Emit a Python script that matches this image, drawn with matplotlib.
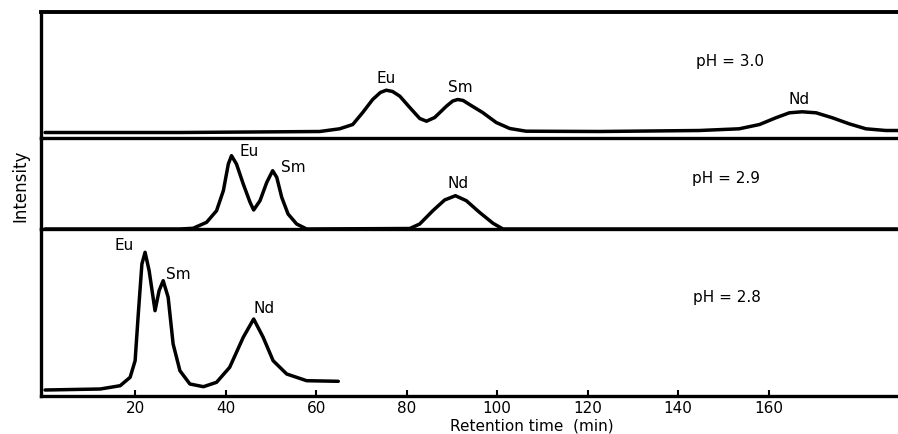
import matplotlib
matplotlib.use("Agg")
import matplotlib.pyplot as plt

# retention time (min) and intensity (arbitrary units)
ph30_t = [0.1, 30.0, 60.8, 65.2, 68.1, 70.3, 72.5, 74.2, 75.5, 76.9, 78.5, 80.7, 82.9,
          84.4, 86.2, 88.8, 90.2, 91.3, 92.5, 93.9, 96.8, 99.8, 102.8, 106.4, 122.6,
          144.7, 153.5, 158.0, 161.6, 164.6, 167.4, 170.5, 174.1, 177.8, 181.5, 185.9, 188.6]
ph30_i = [5.0, 5.0, 6.0, 8.7, 13.0, 25.0, 38.0, 45.0, 47.3, 46.0, 41.3, 30.0, 19.0,
          16.3, 20.0, 31.3, 36.5, 38.0, 37.0, 33.0, 25.0, 15.0, 9.0, 6.3, 6.0,
          7.0, 8.7, 13.0, 19.7, 24.7, 25.7, 24.7, 19.7, 13.7, 8.7, 7.0, 7.0]

ph29_t = [0.1, 29.9, 32.8, 35.8, 38.0, 39.5, 40.6, 41.3, 42.4, 43.9, 45.4, 46.2, 47.6,
          49.1, 50.4, 51.3, 52.4, 53.8, 55.7, 57.9, 80.7, 82.9, 85.8, 88.4, 90.8,
          93.2, 96.1, 99.1, 101.3, 188.4]
ph29_i = [0.0, 0.0, 0.7, 6.7, 18.3, 38.3, 65.0, 73.3, 65.0, 45.0, 26.7, 19.0, 28.3,
          46.7, 58.3, 51.7, 31.7, 15.0, 5.0, 0.0, 0.5, 5.0, 18.3, 29.0, 33.3,
          28.3, 16.7, 5.7, 0.0, 0.0]

ph28_t = [0.1, 12.3, 16.7, 18.9, 20.0, 20.7, 21.5, 22.2, 23.1, 24.4, 25.3, 26.2, 27.3,
          28.4, 29.9, 32.1, 35.1, 38.0, 40.9, 43.9, 46.2, 48.3, 50.5, 53.5, 57.9, 64.9]
ph28_i = [6.0, 7.0, 10.3, 18.7, 35.3, 82.0, 132.0, 143.7, 125.3, 85.3, 105.3, 115.3, 98.7,
          52.0, 25.3, 12.0, 9.3, 13.7, 28.7, 58.7, 77.0, 58.7, 35.3, 22.0, 15.3, 14.7]

ticks = [20, 40, 60, 80, 100, 120, 140, 160]

W, H = 898, 435
fig = plt.figure(figsize=(W / 100, H / 100), dpi=100)

def panel(top_px, bot_px):
    ax = fig.add_axes([41 / W, 1 - bot_px / H, 1 - 41 / W, (bot_px - top_px) / H])
    ax.patch.set_visible(False)  # so the next panel doesn't hide half the separator
    ax.set_xlim(-0.8, 188.6)
    ax.set_ylim(0, bot_px - top_px)
    for s in ["top", "right"]:
        ax.spines[s].set_visible(False)
    for s in ["left", "bottom"]:
        ax.spines[s].set_linewidth(2.4)
    ax.set_yticks([])
    ax.set_xticks([])
    return ax

ax1 = panel(12.5, 138.5)
ax1.spines["top"].set_visible(True)
ax1.spines["top"].set_linewidth(2.8)
ax2 = panel(138.5, 230)
ax3 = panel(230, 397)

kw = dict(color="black", lw=2.5, solid_joinstyle="round", solid_capstyle="round", clip_on=False)
ax1.plot(ph30_t, ph30_i, **kw)
ax2.plot(ph29_t, ph29_i, **kw)
ax3.plot(ph28_t, ph28_i, **kw)

ax3.set_xticks(ticks)
ax3.set_xticklabels([str(t) for t in ticks])
ax3.tick_params(axis="x", direction="in", length=4, width=1.5, labelsize=11, pad=3)

lab = dict(fontsize=11, ha="center", va="center")
# pH 3.0
ax1.text(75.5, 138.5 - 79, "Eu", **lab)
ax1.text(91.8, 138.5 - 88, "Sm", **lab)
ax1.text(166.8, 138.5 - 100, "Nd", **lab)
ax1.text(151.5, 138.5 - 62, "pH = 3.0", **lab)
# pH 2.9
ax2.text(45.2, 230 - 151, "Eu", **lab)
ax2.text(54.9, 230 - 168, "Sm", **lab)
ax2.text(91.3, 230 - 184, "Nd", **lab)
ax2.text(150.5, 230 - 179, "pH = 2.9", **lab)
# pH 2.8
ax3.text(17.5, 397 - 246, "Eu", **lab)
ax3.text(29.5, 397 - 275, "Sm", **lab)
ax3.text(48.5, 397 - 309, "Nd", **lab)
ax3.text(150.7, 397 - 298, "pH = 2.8", **lab)

fig.text(20 / W, 1 - 186 / H, "Intensity", rotation=90, fontsize=12, ha="center", va="center")
fig.text(532 / W, 1 - 426.5 / H, "Retention time  (min)", fontsize=11, ha="center", va="center")

fig.savefig("out.png", dpi=100)
